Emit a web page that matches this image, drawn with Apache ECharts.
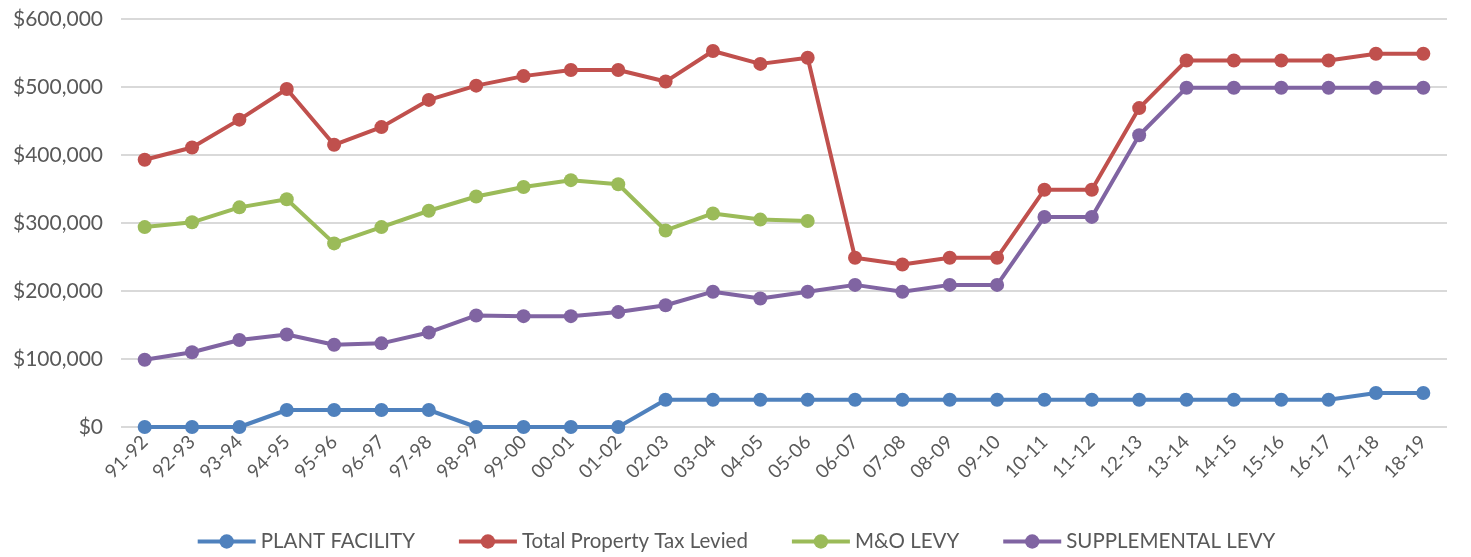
<!DOCTYPE html>
<html>
<head>
<meta charset="utf-8">
<script src="https://cdn.jsdelivr.net/npm/echarts@6/dist/echarts.min.js"></script>
<style>
  html, body { margin: 0; padding: 0; background: #fff; }
  #chart { width: 1471px; height: 557px; }
</style>
</head>
<body>
<div id="chart"></div>
<script>
// fiscal years
var years = ['91-92', '92-93', '93-94', '94-95', '95-96', '96-97', '97-98', '98-99', '99-00', '00-01',
  '01-02', '02-03', '03-04', '04-05', '05-06', '06-07', '07-08', '08-09', '09-10', '10-11',
  '11-12', '12-13', '13-14', '14-15', '15-16', '16-17', '17-18', '18-19'];

var plantFacility = [0, 0, 0, 25000, 25000, 25000, 25000, 0, 0, 0,
  0, 40000, 40000, 40000, 40000, 40000, 40000, 40000, 40000, 40000,
  40000, 40000, 40000, 40000, 40000, 40000, 50000, 50000];

var totalLevied = [393000, 411000, 452000, 497000, 415000, 441000, 481000, 502000, 516000, 525000,
  525000, 508000, 553000, 534000, 543000, 249000, 239000, 249000, 249000, 349000,
  349000, 469000, 539000, 539000, 539000, 539000, 549000, 549000];

var moLevy = [294000, 301000, 323000, 335000, 270000, 294000, 318000, 339000, 353000, 363000,
  357000, 289000, 314000, 305000, 303000, null, null, null, null, null,
  null, null, null, null, null, null, null, null];

var supplemental = [99000, 110000, 128000, 136000, 121000, 123000, 139000, 164000, 163000, 163000,
  169000, 179000, 199000, 189000, 199000, 209000, 199000, 209000, 209000, 309000,
  309000, 429000, 499000, 499000, 499000, 499000, 499000, 499000];

var yTicks = [0, 100000, 200000, 300000, 400000, 500000, 600000];

var dom = document.getElementById('chart');
var myChart = echarts.init(dom, null, { renderer: 'canvas' });

function mkSeries(name, data, color) {
  return {
    name: name,
    type: 'line',
    data: data,
    symbol: 'circle',
    symbolSize: 14,
    connectNulls: false,
    itemStyle: { color: color },
    lineStyle: { color: color, width: 4 }
  };
}

var option = {
  animation: false,
  textStyle: { fontFamily: 'Lato', color: '#595959' },
  color: ['#4F81BD', '#C0504D', '#9BBB59', '#8064A2'],
  grid: { left: 121, right: 24, top: 19, bottom: 130 },
  legend: {
    bottom: 0,
    left: 'center',
    itemWidth: 58,
    itemHeight: 18,
    itemGap: 42,
    lineStyle: { width: 4 },
    textStyle: { fontSize: 20.5, color: '#595959', fontFamily: 'Lato' },
    data: ['PLANT FACILITY', 'Total Property Tax Levied', 'M&O LEVY', 'SUPPLEMENTAL LEVY']
  },
  xAxis: {
    type: 'category',
    data: years,
    boundaryGap: true,
    axisLine: { show: false },
    axisTick: { show: false },
    axisLabel: { rotate: 45, fontSize: 19, color: '#595959', margin: 12, interval: 0 }
  },
  yAxis: {
    type: 'value',
    min: yTicks[0],
    max: yTicks[yTicks.length - 1],
    interval: 100000,
    axisLine: { show: false },
    axisTick: { show: false },
    splitLine: { lineStyle: { color: '#D9D9D9', width: 2 } },
    axisLabel: {
      fontSize: 21,
      color: '#595959',
      margin: 18,
      formatter: function (v) { return '$' + v.toLocaleString('en-US'); }
    }
  },
  series: [
    mkSeries('PLANT FACILITY', plantFacility, '#4F81BD'),
    mkSeries('Total Property Tax Levied', totalLevied, '#C0504D'),
    mkSeries('M&O LEVY', moLevy, '#9BBB59'),
    mkSeries('SUPPLEMENTAL LEVY', supplemental, '#8064A2')
  ]
};

myChart.setOption(option);
window.addEventListener('resize', myChart.resize);
</script>
</body>
</html>
